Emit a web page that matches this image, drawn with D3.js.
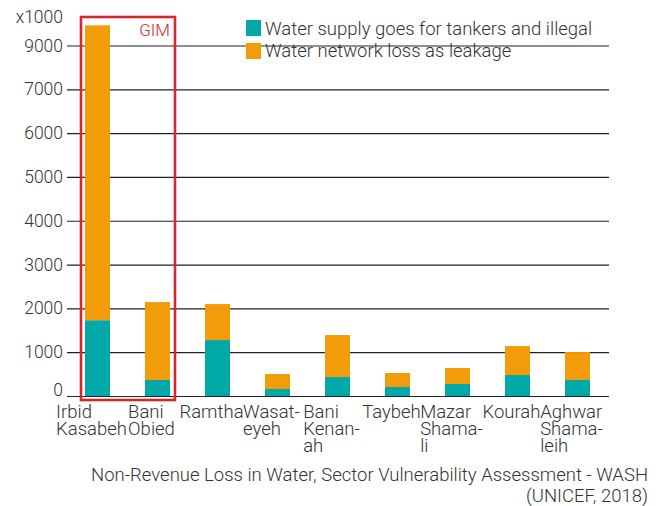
<!DOCTYPE html>
<html><head><meta charset="utf-8">
<script src="https://cdn.jsdelivr.net/npm/d3@7"></script>
<style>
body{margin:0;background:#fff;}
text{font-family:Roboto,"Noto Sans",sans-serif;font-weight:300;fill:#333;}
</style></head>
<body><svg id="c" width="662" height="506"></svg>
<script>
const categories = [["Irbid","Kasabeh"],["Bani","Obied"],["Ramtha"],["Wasat-","eyeh"],["Bani","Kenan-","ah"],["Taybeh"],["Mazar","Shama-","li"],["Kourah"],["Aghwar","Shama-","leih"]];
const tankers = [1730, 365, 1277, 160, 433, 205, 274, 479, 365];
const leakage = [6730, 1779, 821, 342, 958, 320, 364, 661, 638];
const tickValues = [0,1000,2000,3000,4000,5000,6000,7000,8000];
const tickLabels = ["0","1000","2000","3000","4000","5000","6000","7000","9000"];
const seriesNames = ["Water supply goes for tankers and illegal","Water network loss as leakage"];
const colors = ["#00A8A8","#F39C0A"];

const svg = d3.select("#c");
const x = d3.scaleBand().domain(d3.range(categories.length)).range([67.5,607.5]).paddingInner(35/60).paddingOuter(35/120);
const y = d3.scaleLinear().domain([0,8000]).range([396,45.5]);

// gridlines
const gy = svg.append("g").attr("transform","translate(609,0)").call(d3.axisRight(y).tickValues(tickValues).tickSize(-542).tickFormat(""));
gy.select(".domain").remove();
gy.selectAll(".tick line").attr("stroke","#222").attr("stroke-width",1.2);
const gl = svg.append("g").attr("transform","translate(67,0)").call(d3.axisLeft(y).tickValues(tickValues).tickSize(0).tickPadding(4).tickFormat((d,i)=>tickLabels[i]));
gl.select(".domain").remove();
gl.selectAll(".tick text").style("font-size","17.5px").style("font-family","Roboto").attr("fill","#333")
  .attr("dy",(d,i)=> i===0 ? "-0.05em" : "0.32em");
svg.append("text").attr("x",63).attr("y",23).attr("text-anchor","end").style("font-size","17.5px").text("x1000");

// stacked bars
const stackData = categories.map((c,i)=>({i, t:tankers[i], l:leakage[i]}));
const stack = d3.stack().keys(["t","l"])(stackData);
svg.append("g").selectAll("g").data(stack).join("g").attr("fill",(d,k)=>colors[k])
  .selectAll("rect").data(d=>d).join("rect")
  .attr("x",d=>x(d.data.i)).attr("width",x.bandwidth())
  .attr("y",d=>y(d[1])).attr("height",d=>y(d[0])-y(d[1]));

// x labels
const xl = svg.append("g");
categories.forEach((lines,i)=>{
  const t = xl.append("text").style("font-size","18.5px");
  lines.forEach((ln,j)=>t.append("tspan").attr("x",0).attr("y",418+j*16.8).text(ln));
  const w = t.node().getBBox().width;
  const cx = x(i)+x.bandwidth()/2;
  t.selectAll("tspan").attr("x", cx - w/2 - 6);
});

// GIM box
const bx0 = x(0) - 4, bx1 = x(1) + x.bandwidth() + 5;
svg.append("rect").attr("x",bx0).attr("y",17).attr("width",bx1-bx0).attr("height",383)
  .attr("fill","none").attr("stroke","#D7262B").attr("stroke-width",2.6);
svg.append("text").attr("x",bx1-5).attr("y",36).attr("text-anchor","end").style("font-size","17px").style("fill","#D5262C").text("GIM");

// legend
const lg = svg.append("g");
seriesNames.forEach((n,k)=>{
  lg.append("rect").attr("x",246).attr("y",20+k*23).attr("width",15).attr("height",16).attr("fill",colors[k]);
  lg.append("text").attr("x",265).attr("y",35+k*22).style("font-size","18.5px").text(n);
});

// footer
svg.append("text").attr("x",648).attr("y",481).attr("text-anchor","end").style("font-size","18.5px").text("Non-Revenue Loss in Water, Sector Vulnerability Assessment - WASH");
svg.append("text").attr("x",648).attr("y",502).attr("text-anchor","end").style("font-size","18.5px").text("(UNICEF, 2018)");
</script></body></html>
